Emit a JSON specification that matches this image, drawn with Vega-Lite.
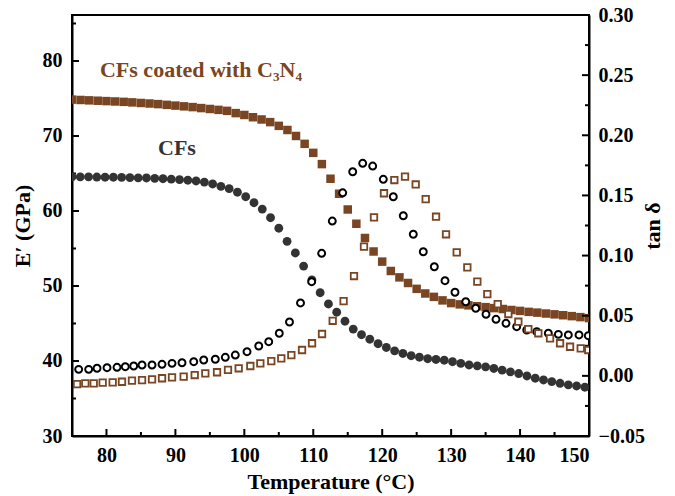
{
  "$schema": "https://vega.github.io/schema/vega-lite/v6.json",
  "width": 517,
  "height": 421,
  "autosize": "none",
  "padding": {"left": 72, "top": 15, "right": 86, "bottom": 60},
  "background": "white",
  "config": {
    "view": {"stroke": "black", "strokeWidth": 2},
    "axis": {
      "labelFont": "Liberation Serif", "labelFontWeight": "bold", "labelFontSize": 20, "labelColor": "black",
      "titleFont": "Liberation Serif", "titleFontWeight": "bold", "titleFontSize": 22, "titleColor": "black",
      "domainColor": "black", "domainWidth": 2, "ticks": false, "grid": false
    }
  },
  "datasets": {
    "coatedE": [
      {"T":75,"E":74.85},{"T":76.25,"E":74.8},{"T":77.5,"E":74.75},{"T":78.75,"E":74.7},{"T":80,"E":74.65},
      {"T":81.25,"E":74.6},{"T":82.5,"E":74.55},{"T":83.75,"E":74.48},{"T":85,"E":74.4},{"T":86.25,"E":74.33},
      {"T":87.5,"E":74.25},{"T":88.75,"E":74.15},{"T":90,"E":74.05},{"T":91.25,"E":73.95},{"T":92.5,"E":73.85},
      {"T":93.75,"E":73.72},{"T":95,"E":73.6},{"T":96.25,"E":73.48},{"T":97.5,"E":73.35},{"T":98.75,"E":73.05},
      {"T":100,"E":72.8},{"T":101.25,"E":72.5},{"T":102.5,"E":72.2},{"T":103.75,"E":71.85},{"T":105,"E":71.35},
      {"T":106.25,"E":70.8},{"T":107.5,"E":70.0},{"T":108.75,"E":68.95},{"T":110,"E":67.75},{"T":111.25,"E":66.25},
      {"T":112.5,"E":64.3},{"T":113.75,"E":62.3},{"T":115,"E":60.2},{"T":116.25,"E":58.3},{"T":117.5,"E":56.4},
      {"T":118.75,"E":54.6},{"T":120,"E":53.25},{"T":121.25,"E":52.0},{"T":122.5,"E":51.15},{"T":123.75,"E":50.4},
      {"T":125,"E":49.62},{"T":126.25,"E":49.0},{"T":127.5,"E":48.55},{"T":128.75,"E":48.08},{"T":130,"E":47.72},
      {"T":131.25,"E":47.55},{"T":132.5,"E":47.42},{"T":133.75,"E":47.3},{"T":135,"E":47.18},{"T":136.25,"E":47.05},
      {"T":137.5,"E":46.93},{"T":138.75,"E":46.8},{"T":140,"E":46.68},{"T":141.25,"E":46.55},{"T":142.5,"E":46.45},
      {"T":143.75,"E":46.33},{"T":145,"E":46.22},{"T":146.25,"E":46.1},{"T":147.5,"E":45.98},{"T":148.75,"E":45.85},
      {"T":150,"E":45.72}
    ],
    "cfE": [
      {"T":75,"E":64.55},{"T":76.2,"E":64.55},{"T":77.4,"E":64.55},{"T":78.6,"E":64.53},{"T":79.8,"E":64.5},
      {"T":81,"E":64.5},{"T":82.2,"E":64.48},{"T":83.4,"E":64.45},{"T":84.6,"E":64.42},{"T":85.8,"E":64.4},
      {"T":87,"E":64.35},{"T":88.2,"E":64.3},{"T":89.4,"E":64.25},{"T":90.6,"E":64.18},{"T":91.8,"E":64.1},
      {"T":93,"E":64.0},{"T":94.2,"E":63.85},{"T":95.4,"E":63.6},{"T":96.6,"E":63.28},{"T":97.8,"E":62.98},
      {"T":99,"E":62.5},{"T":100.2,"E":61.9},{"T":101.4,"E":61.1},{"T":102.6,"E":60.25},{"T":103.8,"E":59.1},
      {"T":105,"E":57.7},{"T":106.2,"E":55.95},{"T":107.4,"E":54.4},{"T":108.6,"E":52.65},{"T":109.8,"E":50.8},
      {"T":111,"E":49.1},{"T":112.2,"E":47.6},{"T":113.4,"E":46.5},{"T":114.6,"E":45.3},{"T":115.8,"E":44.25},
      {"T":117,"E":43.5},{"T":118.2,"E":42.9},{"T":119.4,"E":42.3},{"T":120.6,"E":41.8},{"T":121.8,"E":41.35},
      {"T":123,"E":41.0},{"T":124.2,"E":40.7},{"T":125.4,"E":40.5},{"T":126.6,"E":40.3},{"T":127.8,"E":40.2},
      {"T":129,"E":40.1},{"T":130.2,"E":39.9},{"T":131.4,"E":39.68},{"T":132.6,"E":39.47},{"T":133.8,"E":39.36},
      {"T":135,"E":39.22},{"T":136.2,"E":39.0},{"T":137.4,"E":38.78},{"T":138.6,"E":38.55},{"T":139.8,"E":38.33},
      {"T":141,"E":38.0},{"T":142.2,"E":37.7},{"T":143.4,"E":37.47},{"T":144.6,"E":37.25},{"T":145.8,"E":37.03},
      {"T":147,"E":36.82},{"T":148.2,"E":36.67},{"T":149.4,"E":36.5}
    ],
    "cfTan": [
      {"T":75.97,"tan":0.0054},{"T":77.42,"tan":0.0054},{"T":78.63,"tan":0.0063},{"T":80.08,"tan":0.0068},
      {"T":81.53,"tan":0.0071},{"T":82.73,"tan":0.0076},{"T":83.95,"tan":0.0082},{"T":85.16,"tan":0.009},
      {"T":86.61,"tan":0.009},{"T":88.06,"tan":0.0096},{"T":89.51,"tan":0.0104},{"T":90.96,"tan":0.0109},
      {"T":92.66,"tan":0.0118},{"T":94.11,"tan":0.0132},{"T":95.79,"tan":0.0138},{"T":97.24,"tan":0.0154},
      {"T":98.69,"tan":0.0173},{"T":100.39,"tan":0.0201},{"T":102.09,"tan":0.0248},{"T":103.54,"tan":0.0284},
      {"T":105.07,"tan":0.0354},{"T":106.55,"tan":0.0448},{"T":108.15,"tan":0.0606},{"T":109.77,"tan":0.0783},
      {"T":111.22,"tan":0.1019},{"T":112.76,"tan":0.1287},{"T":114.27,"tan":0.1522},{"T":115.72,"tan":0.1697},
      {"T":117.17,"tan":0.1767},{"T":118.62,"tan":0.1744},{"T":120.16,"tan":0.1634},{"T":121.61,"tan":0.1489},
      {"T":123.06,"tan":0.1331},{"T":124.51,"tan":0.1177},{"T":125.96,"tan":0.1032},{"T":127.56,"tan":0.0907},
      {"T":129.11,"tan":0.0791},{"T":130.56,"tan":0.0695},{"T":132.12,"tan":0.0616},{"T":133.57,"tan":0.0562},
      {"T":135.06,"tan":0.0512},{"T":136.51,"tan":0.047},{"T":137.96,"tan":0.0437},{"T":139.51,"tan":0.0409},
      {"T":140.97,"tan":0.0381},{"T":142.42,"tan":0.0367},{"T":144.1,"tan":0.0354},{"T":145.55,"tan":0.0345},
      {"T":147.0,"tan":0.034},{"T":148.55,"tan":0.034},{"T":149.9,"tan":0.0334}
    ],
    "coatedTan": [
      {"T":75.73,"tan":-0.0068},{"T":76.93,"tan":-0.0062},{"T":78.15,"tan":-0.0062},{"T":79.45,"tan":-0.0057},
      {"T":80.9,"tan":-0.0054},{"T":82.25,"tan":-0.0049},{"T":83.7,"tan":-0.004},{"T":85.16,"tan":-0.0035},
      {"T":86.61,"tan":-0.0029},{"T":88.06,"tan":-0.002},{"T":89.51,"tan":-0.0012},{"T":91.2,"tan":-0.0007},
      {"T":92.8,"tan":0.0007},{"T":94.34,"tan":0.0021},{"T":96.04,"tan":0.003},{"T":97.63,"tan":0.0049},
      {"T":99.18,"tan":0.0063},{"T":100.87,"tan":0.0082},{"T":102.32,"tan":0.0104},{"T":103.91,"tan":0.0123},
      {"T":105.36,"tan":0.0146},{"T":106.82,"tan":0.0173},{"T":108.37,"tan":0.0215},{"T":109.82,"tan":0.0271},
      {"T":111.27,"tan":0.0348},{"T":112.82,"tan":0.0458},{"T":114.4,"tan":0.0622},{"T":115.91,"tan":0.083},
      {"T":117.36,"tan":0.1074},{"T":118.81,"tan":0.1318},{"T":120.26,"tan":0.1518},{"T":121.76,"tan":0.1628},
      {"T":123.31,"tan":0.1657},{"T":124.86,"tan":0.1591},{"T":126.31,"tan":0.147},{"T":127.81,"tan":0.1323},
      {"T":129.26,"tan":0.1177},{"T":130.81,"tan":0.1027},{"T":132.35,"tan":0.0902},{"T":133.8,"tan":0.0783},
      {"T":135.25,"tan":0.068},{"T":136.76,"tan":0.0597},{"T":138.3,"tan":0.0514},{"T":139.75,"tan":0.045},
      {"T":141.2,"tan":0.0389},{"T":142.65,"tan":0.0354},{"T":144.35,"tan":0.0312},{"T":145.8,"tan":0.0271},
      {"T":147.25,"tan":0.0242},{"T":148.8,"tan":0.0229},{"T":149.9,"tan":0.0215}
    ],
    "labels": [
      {"T":79.06,"E":77.9,"text":"CFs coated with C₃N₄","s":"coated"},
      {"T":87.48,"E":67.47,"text":"CFs","s":"cf"}
    ]
  },
  "encoding": {
    "x": {
      "field": "T", "type": "quantitative",
      "scale": {"domain": [75, 150], "nice": false, "zero": false},
      "axis": {
        "orient": "bottom",
        "values": [80,90,100,110,120,130,140,150],
        "labelPadding": 9,
        "title": "Temperature (°C)",
        "titlePadding": 6
      }
    }
  },
  "layer": [
    {
      "encoding": {
        "y": {
          "field": "E", "type": "quantitative",
          "scale": {"domain": [30, 86.13], "nice": false, "zero": false},
          "axis": {
            "orient": "left",
            "values": [30,40,50,60,70,80],
            "labelPadding": 10,
            "title": "E′ (GPa)",
            "titlePadding": 8
          }
        }
      },
      "layer": [
        {
          "data": {"values": [{"T":80,"E":30},{"T":90,"E":30},{"T":100,"E":30},{"T":110,"E":30},{"T":120,"E":30},{"T":130,"E":30},{"T":140,"E":30}]},
          "mark": {"type": "point", "shape": "M0,-1L0,0", "size": 196, "filled": false, "stroke": "black", "strokeWidth": 2, "opacity": 1}
        },
        {
          "data": {"values": [{"T":85,"E":30},{"T":95,"E":30},{"T":105,"E":30},{"T":115,"E":30},{"T":125,"E":30},{"T":135,"E":30},{"T":145,"E":30}]},
          "mark": {"type": "point", "shape": "M0,-1L0,0", "size": 64, "filled": false, "stroke": "black", "strokeWidth": 2, "opacity": 1}
        },
        {
          "data": {"values": [{"T":75,"E":40},{"T":75,"E":50},{"T":75,"E":60},{"T":75,"E":70},{"T":75,"E":80}]},
          "mark": {"type": "point", "shape": "M0,0L1,0", "size": 196, "filled": false, "stroke": "black", "strokeWidth": 2, "opacity": 1}
        },
        {
          "data": {"values": [{"T":75,"E":35},{"T":75,"E":45},{"T":75,"E":55},{"T":75,"E":65},{"T":75,"E":75},{"T":75,"E":85}]},
          "mark": {"type": "point", "shape": "M0,0L1,0", "size": 64, "filled": false, "stroke": "black", "strokeWidth": 2, "opacity": 1}
        },
        {"data": {"name": "coatedE"}, "mark": {"type": "square", "size": 72, "color": "#7a4522", "opacity": 1, "clip": true}},
        {"data": {"name": "cfE"}, "mark": {"type": "circle", "size": 78, "color": "#333333", "opacity": 1, "clip": true}},
        {
          "data": {"name": "labels"},
          "mark": {"type": "text", "align": "left", "baseline": "alphabetic", "font": "Liberation Serif", "fontWeight": "bold", "fontSize": 22},
          "encoding": {
            "text": {"field": "text"},
            "color": {"field": "s", "type": "nominal", "scale": {"domain": ["coated", "cf"], "range": ["#7a4522", "#333333"]}, "legend": null}
          }
        }
      ]
    },
    {
      "encoding": {
        "y": {
          "field": "tan", "type": "quantitative",
          "scale": {"domain": [-0.05, 0.30], "nice": false, "zero": false},
          "axis": {
            "orient": "right",
            "values": [-0.05,0,0.05,0.1,0.15,0.2,0.25,0.3],
            "format": ".2f",
            "labelPadding": 9,
            "title": "tan δ",
            "titleAngle": -90,
            "titlePadding": 20
          }
        }
      },
      "layer": [
        {
          "data": {"values": [{"T":150,"tan":0},{"T":150,"tan":0.05},{"T":150,"tan":0.1},{"T":150,"tan":0.15},{"T":150,"tan":0.2},{"T":150,"tan":0.25}]},
          "mark": {"type": "point", "shape": "M-1,0L0,0", "size": 196, "filled": false, "stroke": "black", "strokeWidth": 2, "opacity": 1}
        },
        {
          "data": {"values": [{"T":150,"tan":-0.025},{"T":150,"tan":0.025},{"T":150,"tan":0.075},{"T":150,"tan":0.125},{"T":150,"tan":0.175},{"T":150,"tan":0.225},{"T":150,"tan":0.275}]},
          "mark": {"type": "point", "shape": "M-1,0L0,0", "size": 64, "filled": false, "stroke": "black", "strokeWidth": 2, "opacity": 1}
        },
        {"data": {"name": "cfTan"}, "mark": {"type": "point", "shape": "circle", "size": 48, "filled": true, "fill": "white", "stroke": "black", "strokeWidth": 2, "opacity": 1, "clip": true}},
        {"data": {"name": "coatedTan"}, "mark": {"type": "point", "shape": "square", "size": 42, "filled": true, "fill": "white", "stroke": "#7a4522", "strokeWidth": 1.8, "opacity": 1, "clip": true}}
      ]
    }
  ],
  "resolve": {"scale": {"y": "independent"}, "axis": {"y": "independent"}}
}
